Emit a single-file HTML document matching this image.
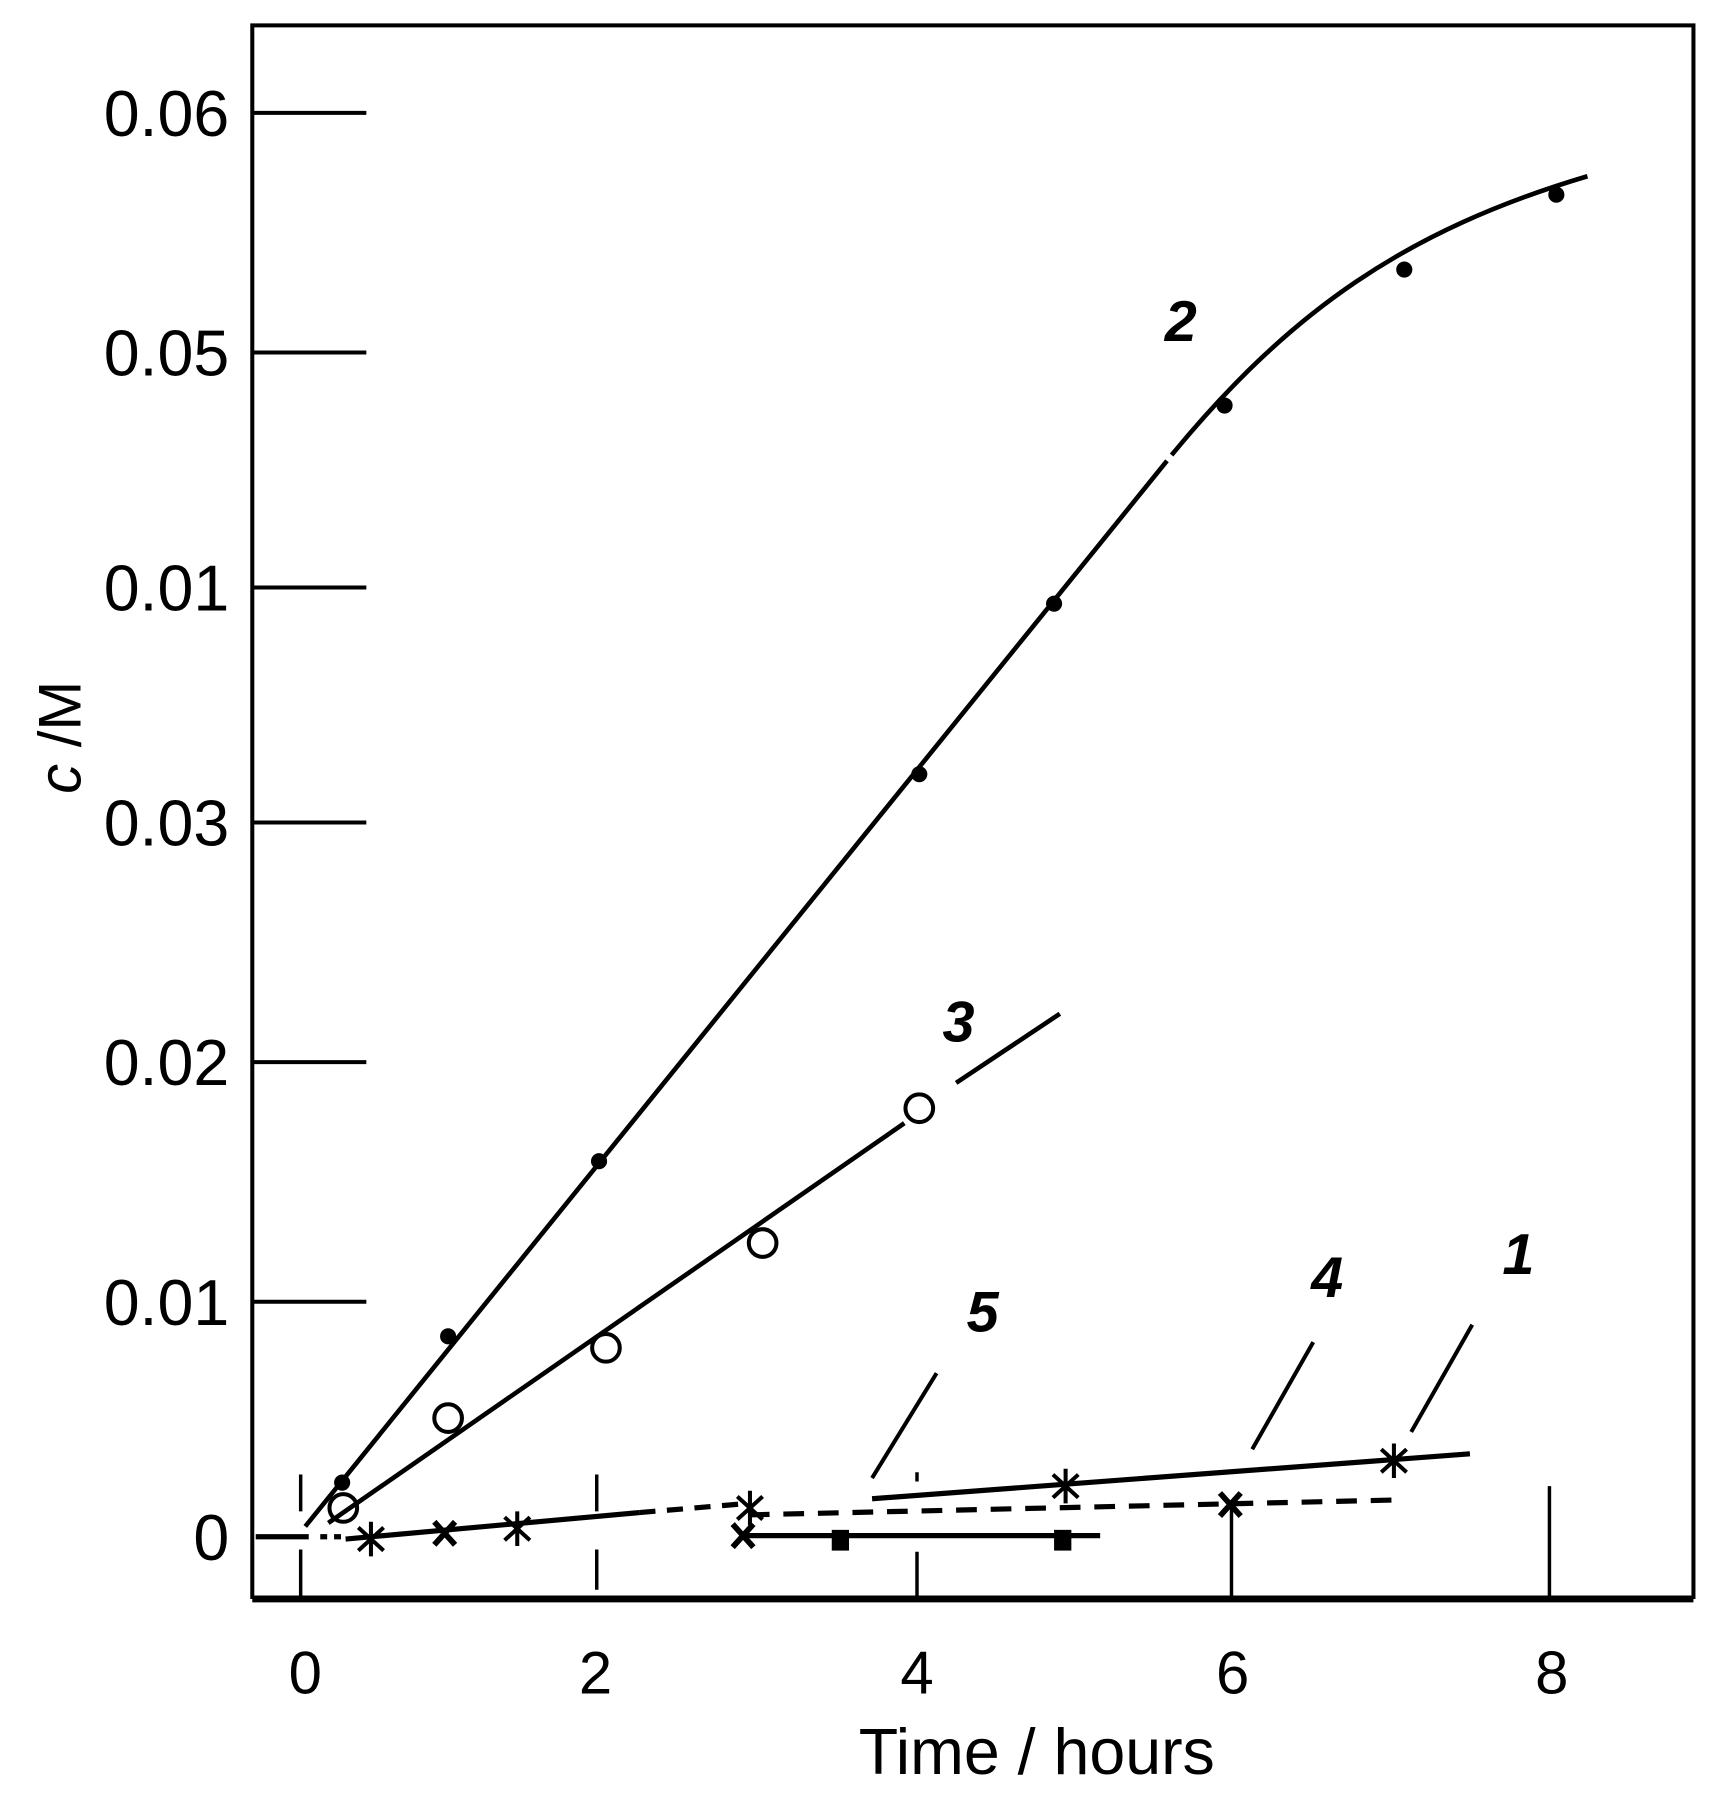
<!DOCTYPE html>
<html><head><meta charset="utf-8"><style>html,body{margin:0;padding:0;background:#fff}svg{display:block}</style></head>
<body>
<svg width="1728" height="1800" viewBox="0 0 1500 1562.5" xmlns="http://www.w3.org/2000/svg" font-family="Liberation Sans, Arial, sans-serif">
<rect width="1500" height="1562.5" fill="#fff"/>
<g stroke="#000" fill="none" stroke-width="3.5">
<path d="M219 1388 V22 H1470 V1388"/>
<path d="M219 1388 H1470" stroke-width="6"/>
<path d="M219 98H318M219 306H318M219 510H318M219 714H318M219 922H318M219 1130H318"/>
<g stroke-width="3">
<path d="M261 1280V1312M261 1345V1385M518 1280V1312M518 1345V1380M796 1278V1286M796 1347V1385M1069 1305V1385M1345 1290V1385"/>
</g>
<path d="M265 1325 L1013 400M1017 395 C1120 270 1220 200 1378 153" stroke-width="4"/>
<path d="M285 1322 L785 975M830 940 L920 880" stroke-width="4"/>
<path d="M300 1336 L555 1313" stroke-width="4.5"/>
<path d="M555 1313 L650 1305" stroke-width="4.5" stroke-dasharray="14 10"/>
<path d="M222 1334 H268" stroke-width="4.5"/>
<path d="M278 1334h6M290 1334h6" stroke-width="4.5"/>
<path d="M650 1315 L1215 1302" stroke-width="4.5" stroke-dasharray="18 12"/>
<path d="M757 1301 L1276 1262" stroke-width="4.5"/>
<path d="M645 1333 L955 1333" stroke-width="4.5"/>
<path d="M757 1283 L813 1192M1087 1258 L1140 1165M1225 1243 L1278 1150" stroke-width="3.5"/>
<g stroke-width="3.5">
<circle cx="298" cy="1309" r="12"/><circle cx="389" cy="1231" r="12"/><circle cx="526" cy="1170" r="12"/><circle cx="662" cy="1079" r="12"/><circle cx="798" cy="962" r="12"/>
</g>
</g>
<g fill="#000">
<circle cx="297" cy="1287" r="7"/><circle cx="389" cy="1160" r="7"/><circle cx="520" cy="1008" r="7"/><circle cx="798" cy="672" r="7"/><circle cx="915" cy="524" r="7"/><circle cx="1063" cy="352" r="7"/><circle cx="1219" cy="234" r="7"/><circle cx="1351" cy="169" r="7"/>
<rect x="722" y="1328" width="15" height="18"/><rect x="915" y="1328" width="15" height="18"/>
</g>
<g stroke="#000" stroke-width="3.5" fill="none">
<path transform="translate(322 1336)" d="M0 -15V15M-11 -10L11 10M-11 10L11 -10"/>
<path transform="translate(449 1327)" d="M0 -15V15M-11 -10L11 10M-11 10L11 -10"/>
<path transform="translate(651 1309)" d="M0 -15V15M-11 -10L11 10M-11 10L11 -10"/>
<path transform="translate(925 1290)" d="M0 -15V15M-11 -10L11 10M-11 10L11 -10"/>
<path transform="translate(1210 1268)" d="M0 -15V15M-11 -10L11 10M-11 10L11 -10"/>
<path transform="translate(386 1331)" d="M-9 -10L9 10M-9 10L9 -10" stroke-width="5"/>
<path transform="translate(645 1333)" d="M-9 -10L9 10M-9 10L9 -10" stroke-width="5"/>
<path transform="translate(1068 1306)" d="M-9 -10L9 10M-9 10L9 -10" stroke-width="5"/>
</g>
<g font-size="56" fill="#000" text-anchor="end">
<text x="199" y="118">0.06</text><text x="199" y="326">0.05</text><text x="199" y="530">0.01</text><text x="199" y="734">0.03</text><text x="199" y="942">0.02</text><text x="199" y="1150">0.01</text><text x="199" y="1354">0</text>
</g>
<g font-size="52" fill="#000" text-anchor="middle">
<text x="265" y="1470">0</text><text x="517" y="1470">2</text><text x="796" y="1470">4</text><text x="1070" y="1470">6</text><text x="1347" y="1470">8</text>
<text x="900" y="1540" font-size="56">Time / hours</text>
<text transform="translate(70 640) rotate(-90)" font-size="52"><tspan font-style="italic">c</tspan> /M</text>
</g>
<g font-size="50" font-weight="bold" font-style="italic" fill="#000" text-anchor="middle">
<text x="1025" y="296">2</text><text x="832" y="904">3</text><text x="853" y="1156">5</text><text x="1152" y="1126">4</text><text x="1318" y="1106">1</text>
</g>
</svg>
</body></html>
